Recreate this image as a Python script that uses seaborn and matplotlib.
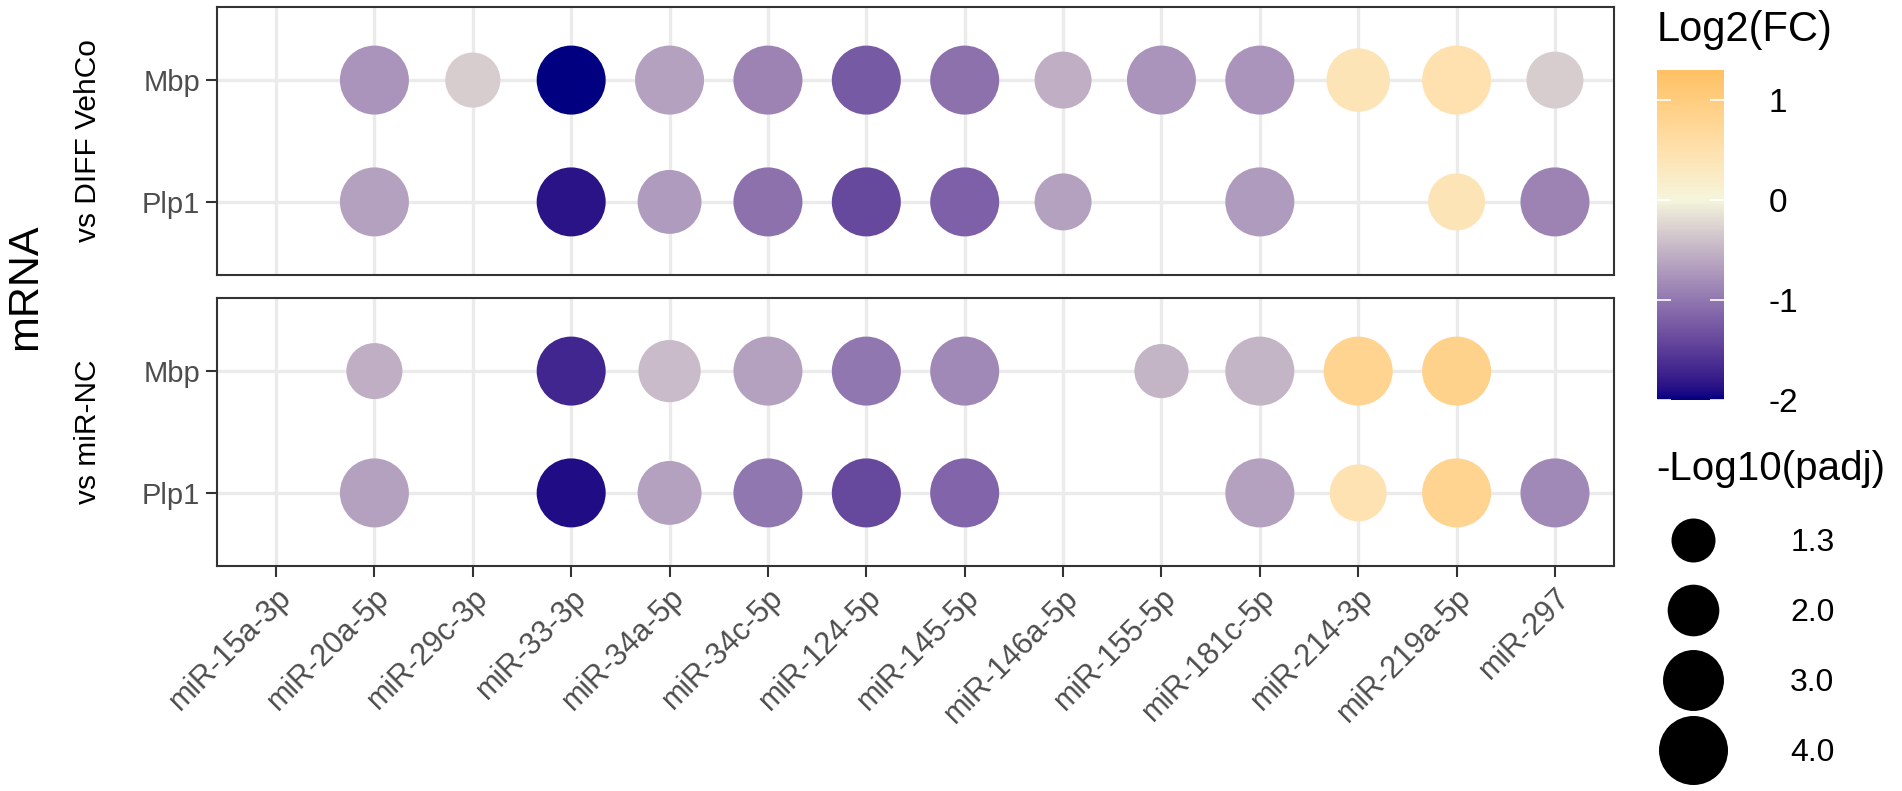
import numpy as np
import pandas as pd
import matplotlib
matplotlib.use('Agg')
import matplotlib.pyplot as plt
import matplotlib.colors as mcolors
from matplotlib.lines import Line2D
import seaborn as sns

mirnas = ['miR-15a-3p', 'miR-20a-5p', 'miR-29c-3p', 'miR-33-3p', 'miR-34a-5p',
          'miR-34c-5p', 'miR-124-5p', 'miR-145-5p', 'miR-146a-5p', 'miR-155-5p',
          'miR-181c-5p', 'miR-214-3p', 'miR-219a-5p', 'miR-297']
genes = ['Mbp', 'Plp1']
contrasts = ['vs DIFF VehCo', 'vs miR-NC']

nan = np.nan
# log2 fold change, one list per contrast / gene (NaN = not significant)
diff_mbp_fc = [nan, -0.75, -0.3, -2.0, -0.65, -0.9, -1.25, -1.05, -0.55, -0.75, -0.75, 0.4, 0.5, -0.3]
diff_plp1_fc = [nan, -0.65, nan, -1.85, -0.7, -1.05, -1.4, -1.2, -0.65, nan, -0.7, nan, 0.4, -0.9]
nc_mbp_fc = [nan, -0.55, nan, -1.7, -0.45, -0.65, -1.0, -0.85, nan, -0.5, -0.5, 0.8, 0.85, nan]
nc_plp1_fc = [nan, -0.65, nan, -1.9, -0.65, -1.0, -1.4, -1.15, nan, nan, -0.65, 0.45, 0.8, -0.85]

# -log10(padj)
diff_mbp_p = [nan, 4.2, 2.35, 4.2, 4.2, 4.2, 4.2, 4.2, 2.55, 4.2, 4.2, 3.3, 4.2, 2.55]
diff_plp1_p = [nan, 4.2, nan, 4.2, 3.35, 4.2, 4.2, 4.2, 2.55, nan, 4.2, nan, 2.55, 4.2]
nc_mbp_p = [nan, 2.45, nan, 4.1, 3.15, 4.1, 4.1, 4.1, nan, 2.25, 4.1, 4.1, 4.1, nan]
nc_plp1_p = [nan, 4.2, nan, 4.2, 3.35, 4.2, 4.2, 4.2, nan, nan, 4.2, 2.55, 4.2, 4.2]

size_breaks = [1.3, 2.0, 3.0, 4.0]
fc_ticks = [-2, -1, 0, 1]
fc_limits = (-2.0, 1.3)

rows = []
for contrast, gene, fc, p in [
    (contrasts[0], 'Mbp', diff_mbp_fc, diff_mbp_p),
    (contrasts[0], 'Plp1', diff_plp1_fc, diff_plp1_p),
    (contrasts[1], 'Mbp', nc_mbp_fc, nc_mbp_p),
    (contrasts[1], 'Plp1', nc_plp1_fc, nc_plp1_p),
]:
    for m, f, q in zip(mirnas, fc, p):
        rows.append({'contrast': contrast, 'gene': gene, 'mirna': m, 'fc': f, 'padj': q})
df = pd.DataFrame(rows).dropna()
df['mirna'] = pd.Categorical(df['mirna'], categories=mirnas)
df['gene'] = pd.Categorical(df['gene'], categories=genes)


# ggplot-like gradient2 (navy - beige - orange) interpolated in Lab space
M = np.array([[0.4124, 0.3576, 0.1805], [0.2126, 0.7152, 0.0722], [0.0193, 0.1192, 0.9505]])
WHITE = np.array([0.95047, 1.0, 1.08883])


def to_lab(col):
    rgb = np.array(mcolors.to_rgb(col))
    lin = np.where(rgb <= 0.04045, rgb / 12.92, ((rgb + 0.055) / 1.055) ** 2.4)
    xyz = M @ lin / WHITE
    f = np.where(xyz > 0.008856, np.cbrt(xyz), 7.787 * xyz + 16 / 116)
    return np.array([116 * f[1] - 16, 500 * (f[0] - f[1]), 200 * (f[1] - f[2])])


def from_lab(lab):
    fy = (lab[0] + 16) / 116
    f = np.array([fy + lab[1] / 500, fy, fy - lab[2] / 200])
    xyz = np.where(f ** 3 > 0.008856, f ** 3, (f - 16 / 116) / 7.787) * WHITE
    lin = np.clip(np.linalg.solve(M, xyz), 0, None)
    rgb = np.where(lin <= 0.0031308, 12.92 * lin, 1.055 * lin ** (1 / 2.4) - 0.055)
    return np.clip(rgb, 0, 1)


low, mid, high = to_lab('#000080'), to_lab('#F5F5DC'), to_lab('#FFA500')
vals = np.linspace(fc_limits[0], fc_limits[1], 256)
cols = []
for v in vals:
    t = v / 4 + 0.5
    if t < 0.5:
        cols.append(from_lab(low + (mid - low) * (t / 0.5)))
    else:
        cols.append(from_lab(mid + (high - mid) * ((t - 0.5) / 0.5)))
cmap = mcolors.ListedColormap(cols)
norm = mcolors.Normalize(*fc_limits)


def size_s(d_px):
    return (d_px * 0.72) ** 2


s_lo, s_hi = size_s(44), size_s(69)

plt.rcParams['font.family'] = ['Liberation Sans', 'DejaVu Sans']
plt.rcParams['axes.unicode_minus'] = False
W, H = 1902, 791
fig = plt.figure(figsize=(W / 100, H / 100), dpi=100)

panel_tops = [7, 298]
axes = []
for i, contrast in enumerate(contrasts):
    top = panel_tops[i]
    ax = fig.add_axes([217 / W, 1 - (top + 268) / H, 1397 / W, 268 / H])
    sub = df[df['contrast'] == contrast]
    sns.scatterplot(data=sub, x='mirna', y='gene', hue='fc', size='padj',
                    palette=cmap, hue_norm=norm, sizes=(s_lo, s_hi),
                    size_norm=(1.3, 4.0), linewidth=0, legend=False, ax=ax, zorder=3)
    ax.set_xticks(range(len(mirnas)))
    ax.set_xticklabels(mirnas)
    ax.set_yticks(range(len(genes)))
    ax.set_yticklabels(genes)
    ax.set_xlim(-0.6, len(mirnas) - 0.4)
    ax.set_ylim(1.6, -0.6)
    ax.grid(True, color='#EBEBEB', lw=2.4)
    ax.set_axisbelow(True)
    for sp in ax.spines.values():
        sp.set_color('#333333')
        sp.set_linewidth(1.5)
    ax.tick_params(length=8, width=1.5, color='#333333', labelcolor='#4D4D4D',
                   labelsize=21, pad=4)
    ax.tick_params(axis='x', labelsize=22)
    ax.set_xlabel('')
    ax.set_ylabel('')
    fig.text(88 / W, 1 - (top + 134) / H, contrast, rotation=90, ha='center',
             va='center', fontsize=21.5)
    axes.append(ax)

axes[0].tick_params(bottom=False, labelbottom=False)
plt.setp(axes[1].get_xticklabels(), rotation=45, ha='right', va='top',
         rotation_mode='anchor')

fig.text(25 / W, 1 - 287 / H, 'mRNA', rotation=90, ha='center', va='center', fontsize=31)

# colour bar
cax = fig.add_axes([1657 / W, 1 - 400 / H, 67 / W, 330 / H])
cb = fig.colorbar(plt.cm.ScalarMappable(norm=norm, cmap=cmap), cax=cax)
cb.outline.set_visible(False)
cb.set_ticks(fc_ticks)
cax.tick_params(direction='in', length=10, width=1.2, color='white', labelsize=24,
                left=True, right=True, pad=32)
fig.text(1657 / W, 1 - 30 / H, 'Log2(FC)', ha='left', va='center', fontsize=30)

# size legend
handles = [Line2D([], [], marker='o', ls='', color='black', markeredgewidth=0,
                  markersize=np.sqrt(s_lo + (b - 1.3) / (4.0 - 1.3) * (s_hi - s_lo)))
           for b in size_breaks]
fig.legend(handles, [f'{b:.1f}' for b in size_breaks], title='-Log10(padj)',
           loc='upper left', bbox_to_anchor=(1656 / W, 1 - 450 / H), frameon=False,
           fontsize=23, title_fontsize=29, alignment='left', labelspacing=1.25,
           handlelength=2.3, handletextpad=1.9, borderpad=0, borderaxespad=0)

fig.savefig('out.png', dpi=100)
